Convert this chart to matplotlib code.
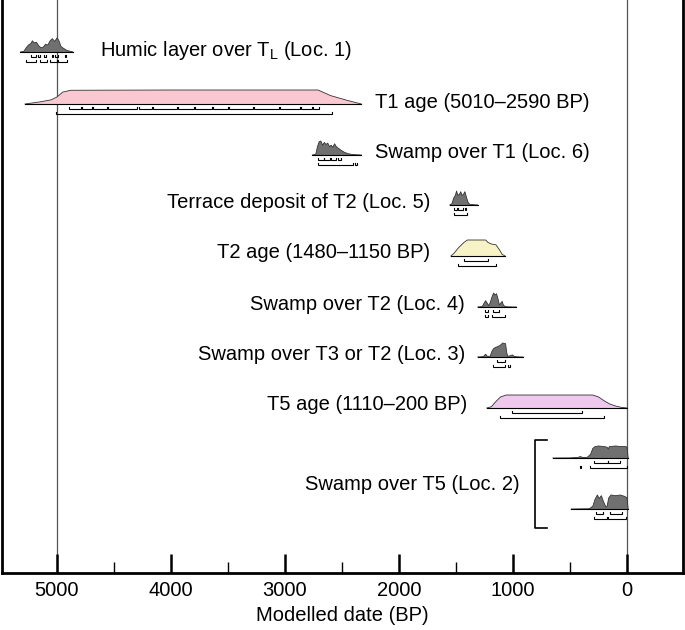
import numpy as np
import matplotlib
matplotlib.use("Agg")
import matplotlib.pyplot as plt

# --------------------------------------------------------------
# Data (dates in years BP, relative probability 0-1)
# --------------------------------------------------------------

humic_date = [5320, 5290, 5270, 5250, 5230, 5215, 5200, 5180, 5160, 5140, 5120, 5100,
              5080, 5060, 5040, 5020, 5000, 4985, 4965, 4950, 4930, 4910, 4880, 4860]
humic_prob = [0, 0.05, 0.3, 0.5, 0.6, 0.8, 0.65, 0.7, 0.45, 0.3, 0.35, 0.55,
              0.5, 0.8, 0.95, 0.75, 1.0, 0.85, 0.4, 0.3, 0.2, 0.1, 0.05, 0]

t1_date = [5280, 5150, 5050, 5000, 4950, 4880, 4000, 2710, 2600, 2450, 2330]
t1_prob = [0, 0.15, 0.3, 0.5, 0.85, 0.98, 1.0, 1.0, 0.6, 0.25, 0]

swamp_t1_date = [2760, 2730, 2715, 2700, 2685, 2670, 2655, 2640, 2625, 2610, 2595, 2580,
                 2565, 2550, 2535, 2510, 2480, 2450, 2420, 2380, 2330]
swamp_t1_prob = [0, 0.05, 0.6, 0.95, 1.0, 0.7, 0.9, 0.75, 0.85, 0.6, 0.7, 0.55,
                 0.8, 0.6, 0.5, 0.35, 0.2, 0.1, 0.05, 0.02, 0]

terrace_date = [1555, 1535, 1520, 1505, 1495, 1485, 1470, 1458, 1448, 1435, 1422, 1410,
                1395, 1380, 1340, 1310]
terrace_prob = [0, 0.1, 0.5, 0.7, 1.0, 0.7, 0.75, 0.95, 0.7, 0.75, 0.95, 0.6,
                0.2, 0.05, 0.02, 0]

t2_date = [1545, 1520, 1480, 1430, 1400, 1240, 1220, 1190, 1150, 1120, 1095, 1070]
t2_prob = [0, 0.15, 0.5, 0.85, 1.0, 1.0, 0.85, 0.75, 0.7, 0.4, 0.1, 0]

swamp_t2_date = [1310, 1270, 1255, 1240, 1228, 1215, 1200, 1185, 1170, 1158, 1145, 1132,
                 1120, 1105, 1095, 1085, 1070, 1040, 970]
swamp_t2_prob = [0, 0.03, 0.25, 0.45, 0.3, 0.1, 0.3, 0.7, 1.0, 0.85, 0.95, 0.6,
                 0.15, 0.3, 0.4, 0.15, 0.03, 0.01, 0]

swamp_t3_date = [1310, 1260, 1240, 1225, 1200, 1185, 1170, 1150, 1130, 1110, 1090, 1065,
                 1055, 1045, 1020, 1005, 990, 960, 910]
swamp_t3_prob = [0, 0.03, 0.2, 0.05, 0.05, 0.4, 0.6, 0.7, 0.75, 0.85, 1.0, 0.95,
                 0.3, 0.05, 0.1, 0.15, 0.05, 0.01, 0]

t5_date = [1230, 1190, 1150, 1110, 1060, 300, 250, 200, 150, 100, 50, 0]
t5_prob = [0, 0.1, 0.5, 0.85, 1.0, 1.0, 0.85, 0.55, 0.3, 0.15, 0.05, 0]

swamp_t5a_date = [650, 500, 430, 410, 390, 350, 320, 300, 280, 250, 200, 175,
                  165, 155, 100, 50, 10, 0, -10]
swamp_t5a_prob = [0, 0.01, 0.05, 0.12, 0.05, 0.05, 0.3, 0.8, 0.95, 1.0, 0.95, 0.9,
                  0.75, 0.95, 1.0, 0.95, 0.95, 0.9, 0]

swamp_t5b_date = [490, 330, 300, 280, 260, 245, 225, 205, 185, 175, 160, 140,
                  100, 60, 20, 0, -10]
swamp_t5b_prob = [0, 0.02, 0.2, 0.7, 1.0, 0.75, 0.95, 0.5, 0.15, 0.2, 0.8, 1.0,
                  0.95, 1.0, 0.9, 0.8, 0]

# ranges: first list = inner (68.2%), second list = outer (95.4%)
humic_ranges = [[(5228, 5184), (5167, 5149), (5114, 5096), (5044, 5035), (5018, 4991), (4930, 4921)],
                [(5272, 5184), (5149, 5088), (5061, 5000), (4991, 4912)]]
t1_ranges = [[(4890, 4790), (4780, 4690), (4680, 4560), (4550, 4300), (4280, 4170), (4160, 3950),
              (3940, 3800), (3790, 3640), (3630, 3500), (3490, 3280), (3270, 3050), (3040, 2870),
              (2860, 2760), (2750, 2700)],
             [(5010, 2590)]]
swamp_t1_ranges = [[(2711, 2658), (2658, 2605), (2596, 2553), (2535, 2509)],
                   [(2711, 2404), (2386, 2368)]]
terrace_ranges = [[(1518, 1491), (1482, 1439), (1421, 1412)],
                  [(1518, 1404)]]
t2_ranges = [[(1430, 1219)], [(1480, 1150)]]
swamp_t2_ranges = [[(1246, 1219), (1175, 1123)],
                   [(1246, 1219), (1184, 1070)]]
swamp_t3_ranges = [[(1140, 1070)],
                   [(1175, 1070), (1044, 1026)]]
t5_ranges = [[(1009, 395)], [(1110, 200)]]
swamp_t5a_ranges = [[(289, 167), (167, 61)],
                    [(412, 403), (325, 0)]]
swamp_t5b_ranges = [[(272, 211), (149, 44)],
                    [(289, 175), (167, 9)]]

labels = ["Humic layer over T$_{\\mathregular{L}}$ (Loc. 1)",
          "T1 age (5010–2590 BP)",
          "Swamp over T1 (Loc. 6)",
          "Terrace deposit of T2 (Loc. 5)",
          "T2 age (1480–1150 BP)",
          "Swamp over T2 (Loc. 4)",
          "Swamp over T3 or T2 (Loc. 3)",
          "T5 age (1110–200 BP)",
          "Swamp over T5 (Loc. 2)"]

# --------------------------------------------------------------
# Plot settings
# --------------------------------------------------------------

plt.rcParams['font.family'] = ['Liberation Sans', 'DejaVu Sans']
plt.rcParams['mathtext.fontset'] = 'custom'
plt.rcParams['mathtext.rm'] = 'Liberation Sans'

fig = plt.figure(figsize=(6.85, 6.3), dpi=100)
ax = fig.add_axes([2 / 685, 1 - 573 / 630, 681 / 685, 573 / 630])
ax.set_xlim(5482, -491)
ax.set_ylim(573, 0)

DARK = "#707070"


def draw_dist(date, prob, base, color, ranges, height=14):
    date = np.array(date)
    top = base - np.array(prob) * height
    ax.fill_between(date, base, top, facecolor=color, edgecolor="none", zorder=2)
    ax.plot(date, top, color="#333333", lw=0.6, zorder=3)
    ax.plot([date.min(), date.max()], [base, base], color="black", lw=0.8, zorder=3)
    for k, row in enumerate(ranges):
        y = base + 5 + 5 * k
        for a, b in row:
            ax.plot([a, a, b, b], [y - 2.5, y, y, y - 2.5], color="black", lw=0.8,
                    solid_joinstyle="miter", zorder=3)


# --------------------------------------------------------------
# Distributions
# --------------------------------------------------------------

draw_dist(humic_date, humic_prob, 52, DARK, humic_ranges)
draw_dist(t1_date, t1_prob, 104, "#f9c8d0", t1_ranges)
draw_dist(swamp_t1_date, swamp_t1_prob, 155, DARK, swamp_t1_ranges)
draw_dist(terrace_date, terrace_prob, 205, DARK, terrace_ranges)
draw_dist(t2_date, t2_prob, 256, "#f8f3c6", t2_ranges, height=16)
draw_dist(swamp_t2_date, swamp_t2_prob, 307, DARK, swamp_t2_ranges)
draw_dist(swamp_t3_date, swamp_t3_prob, 357, DARK, swamp_t3_ranges)
draw_dist(t5_date, t5_prob, 408, "#efc8ee", t5_ranges, height=13)
draw_dist(swamp_t5a_date, swamp_t5a_prob, 458, DARK, swamp_t5a_ranges, height=12)
draw_dist(swamp_t5b_date, swamp_t5b_prob, 509, DARK, swamp_t5b_ranges)

# bracket grouping the two Loc. 2 samples
ax.plot([702, 807, 807, 702], [440, 440, 528, 528], color="black", lw=1.2, zorder=3)

# --------------------------------------------------------------
# Labels
# --------------------------------------------------------------

fs = 14.5
ax.text(4623, 50, labels[0], fontsize=fs, ha="left", va="center")
ax.text(2211, 102, labels[1], fontsize=fs, ha="left", va="center")
ax.text(2211, 153, labels[2], fontsize=fs, ha="left", va="center")
ax.text(1728, 202, labels[3], fontsize=fs, ha="right", va="center")
ax.text(1728, 253, labels[4], fontsize=fs, ha="right", va="center")
ax.text(1421, 305, labels[5], fontsize=fs, ha="right", va="center")
ax.text(1421, 354, labels[6], fontsize=fs, ha="right", va="center")
ax.text(1404, 405, labels[7], fontsize=fs, ha="right", va="center")
ax.text(939, 485, labels[8], fontsize=fs, ha="right", va="center")

# --------------------------------------------------------------
# Axes
# --------------------------------------------------------------

ax.axvline(5000, color="#555555", lw=0.9, zorder=1)
ax.axvline(0, color="#555555", lw=0.9, zorder=1)

ax.set_xticks([5000, 4000, 3000, 2000, 1000, 0])
ax.set_xticks(np.arange(500, 5000, 500), minor=True)
ax.tick_params(axis="x", which="major", direction="in", length=14, width=1.8, labelsize=fs, pad=6)
ax.tick_params(axis="x", which="minor", direction="in", length=8, width=1.0)
for t in ax.xaxis.get_major_ticks():
    if t.get_loc() not in (5000, 0):
        t.tick1line.set_markersize(8)
        t.tick1line.set_markeredgewidth(1.0)
ax.set_yticks([])
ax.set_xlabel("Modelled date (BP)", fontsize=fs, labelpad=4)

ax.spines["top"].set_visible(False)
for s in ("left", "right", "bottom"):
    ax.spines[s].set_linewidth(2)

fig.savefig("out.png", dpi=100)
